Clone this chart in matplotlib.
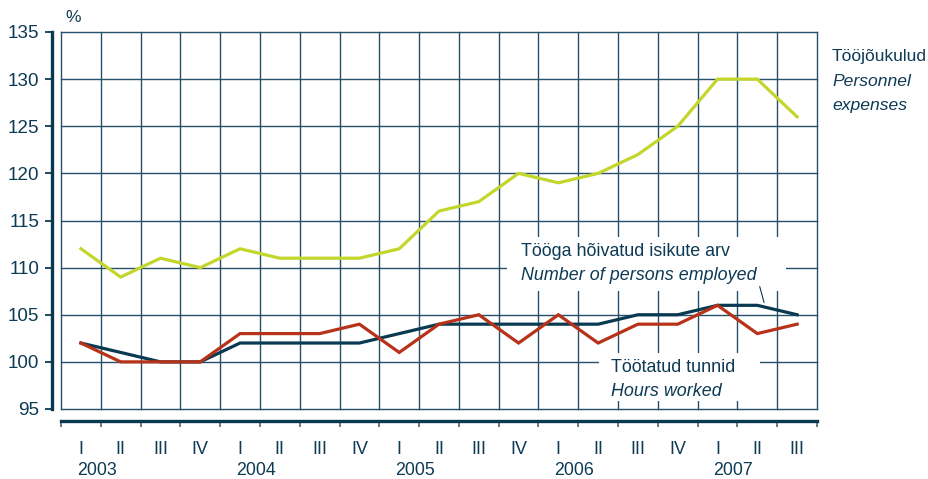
import numpy as np
import matplotlib
matplotlib.use("Agg")
import matplotlib.pyplot as plt
from matplotlib.patches import Rectangle

plt.rcParams['font.family'] = ['Liberation Sans', 'DejaVu Sans']

# ---- data ----
quarters = ["I", "II", "III", "IV"] * 4 + ["I", "II", "III"]
years = ["2003", "2004", "2005", "2006", "2007"]
personnel_expenses = [112, 109, 111, 110, 112, 111, 111, 111, 112, 116, 117, 120,
                      119, 120, 122, 125, 130, 130, 126]
persons_employed = [102, 101, 100, 100, 102, 102, 102, 102, 103, 104, 104, 104,
                    104, 104, 105, 105, 106, 106, 105]
hours_worked = [102, 100, 100, 100, 103, 103, 103, 104, 101, 104, 105, 102,
                105, 102, 104, 104, 106, 103, 104]
yticks = [95, 100, 105, 110, 115, 120, 125, 130, 135]

NAVY = '#0d3a54'
GRID = '#26506a'
YELLOW = '#c4d62b'
RED = '#b73219'
LNAVY = '#0a3a52'

W, H = 929, 479
fig = plt.figure(figsize=(W / 100, H / 100), dpi=100)
ax = fig.add_axes([61 / W, 1 - 409 / H, 756 / W, 377 / H])

x = np.arange(len(quarters))
ax.set_xlim(-0.5, len(quarters) - 0.5)
ax.set_ylim(yticks[0], yticks[-1])

# grid
minor_x = np.arange(-0.5, len(quarters), 1.0)
for xv in minor_x:
    ax.axvline(xv, color=GRID, lw=1.0, zorder=1, clip_on=False)
for yv in yticks:
    ax.axhline(yv, color=GRID, lw=1.0, zorder=1, clip_on=False)

# white boxes behind annotations
def fig_rect(x0, y0, x1, y1):
    r = Rectangle((x0 / W, 1 - y1 / H), (x1 - x0) / W, (y1 - y0) / H,
                  transform=fig.transFigure, facecolor='white', edgecolor='none',
                  zorder=1.5)
    ax.add_patch(r)

fig_rect(507, 237, 786, 291)
fig_rect(599, 353, 760, 401)

# data lines
ax.plot(x, personnel_expenses, color=YELLOW, lw=2.3, zorder=3, solid_joinstyle='miter')
ax.plot(x, persons_employed, color=LNAVY, lw=2.3, zorder=3, solid_joinstyle='miter')
ax.plot(x, hours_worked, color=RED, lw=2.3, zorder=4, solid_joinstyle='miter')

ax.set_xlim(-0.5, len(quarters) - 0.5)
ax.set_ylim(yticks[0], yticks[-1])

# spines
for s in ['top', 'right']:
    ax.spines[s].set_visible(False)
ax.spines['left'].set_position(('outward', 9 * 0.72))
ax.spines['bottom'].set_position(('outward', 12 * 0.72))
for s in ['left', 'bottom']:
    ax.spines[s].set_color(LNAVY)
    ax.spines[s].set_linewidth(2.4)

ax.set_yticks(yticks)
ax.set_yticklabels([str(v) for v in yticks])
ax.tick_params(axis='y', direction='out', length=5, width=1.3, color=LNAVY,
               labelsize=13.6, labelcolor=NAVY, pad=4)

ax.set_xticks(x)
ax.set_xticklabels(quarters)
ax.set_xticks(minor_x, minor=True)
ax.tick_params(axis='x', which='major', length=0, labelsize=13, labelcolor=NAVY, pad=14.5)
ax.tick_params(axis='x', which='minor', direction='out', length=4.5, width=1.2, color='#4a6a7c')

for k, yr in enumerate(years):
    ax.annotate(yr, xy=(4 * k + 0.4, 0), xycoords=('data', 'axes fraction'),
                xytext=(0, -66), textcoords='offset pixels', ha='center', va='baseline',
                fontsize=12.8, color=NAVY)

# texts
def ftext(px, py, s, style='normal', size=12.9):
    fig.text(px / W, 1 - py / H, s, fontsize=size, color=NAVY, style=style,
             ha='left', va='baseline')

fig.text(73 / W, 1 - 18 / H, '%', fontsize=12.5, color=NAVY, ha='center', va='center')

ftext(832, 61, 'Tööjõukulud', size=12.6)
ftext(832, 86, 'Personnel', 'italic', size=12.6)
ftext(832, 110, 'expenses', 'italic', size=12.6)

ftext(521, 256, 'Tööga hõivatud isikute arv')
ftext(521, 280, 'Number of persons employed', 'italic')

ftext(611, 372, 'Töötatud tunnid')
ftext(611, 396, 'Hours worked', 'italic')

ax.annotate('', xy=(17.17, 106.3), xytext=(17.06, 108.0),
            arrowprops=dict(arrowstyle='-', color=LNAVY, lw=0.8, shrinkA=0, shrinkB=0))

fig.savefig('out.png', dpi=100)
